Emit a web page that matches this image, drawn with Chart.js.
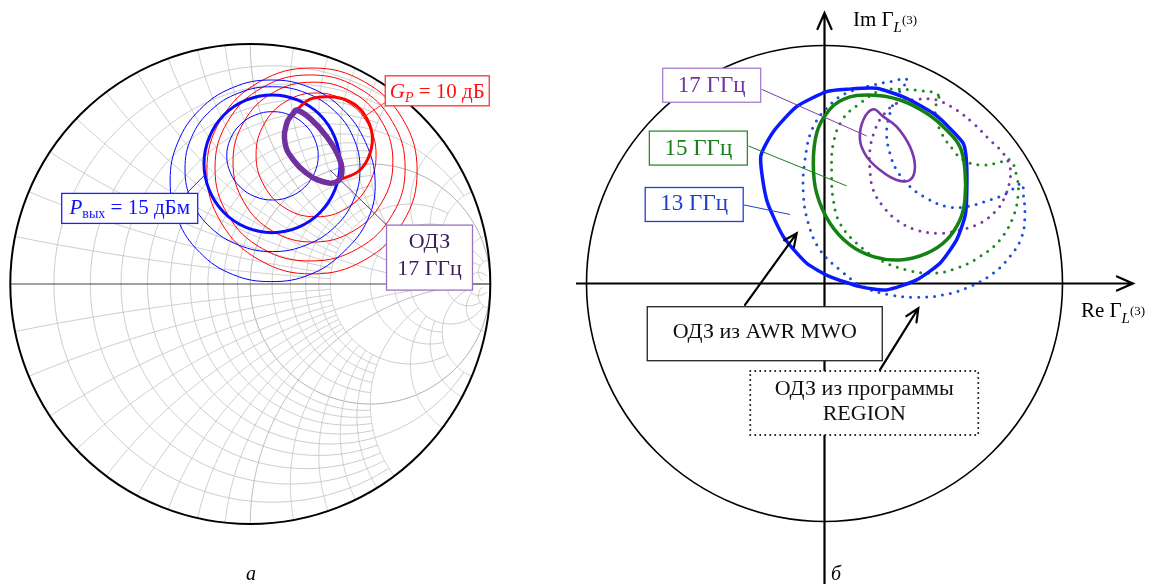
<!DOCTYPE html>
<html>
<head>
<meta charset="utf-8">
<script src="https://cdn.jsdelivr.net/npm/chart.js@4.4.1/dist/chart.umd.min.js"></script>
<style>
  html, body { margin: 0; padding: 0; background: #fff; }
  #wrap { position: relative; width: 1152px; height: 584px; overflow: hidden; }
  canvas { position: absolute; top: 0; }
  #left { left: 0; }
  #right { left: 576px; }
</style>
</head>
<body>
<div id="wrap">
  <canvas id="left" width="576" height="584"></canvas>
  <canvas id="right" width="576" height="584"></canvas>
</div>
<script>
// ---- panel a: contours on the Smith chart (Re/Im of Gamma) ----
const L_POUT_15 = [[0.374,0.501],[0.352,0.611],[0.291,0.704],[0.199,0.766],[0.091,0.788],[-0.018,0.766],[-0.110,0.704],[-0.171,0.611],[-0.193,0.501],[-0.171,0.391],[-0.110,0.298],[-0.018,0.236],[0.091,0.214],[0.199,0.236],[0.291,0.298],[0.352,0.391]];
const L_POUT_A = [[0.283,0.534],[0.268,0.604],[0.227,0.664],[0.165,0.704],[0.093,0.718],[0.020,0.704],[-0.042,0.664],[-0.083,0.604],[-0.098,0.534],[-0.083,0.464],[-0.042,0.404],[0.020,0.364],[0.093,0.350],[0.165,0.364],[0.227,0.404],[0.268,0.464]];
const L_POUT_B = [[0.457,0.479],[0.429,0.611],[0.350,0.722],[0.232,0.796],[0.092,0.822],[-0.048,0.796],[-0.166,0.722],[-0.245,0.611],[-0.272,0.479],[-0.245,0.347],[-0.166,0.236],[-0.048,0.162],[0.092,0.135],[0.232,0.162],[0.350,0.236],[0.429,0.347]];
const L_POUT_C = [[0.520,0.430],[0.480,0.590],[0.386,0.727],[0.250,0.818],[0.088,0.850],[-0.074,0.818],[-0.210,0.727],[-0.302,0.590],[-0.334,0.429],[-0.302,0.268],[-0.210,0.131],[-0.074,0.040],[0.088,0.010],[0.250,0.040],[0.386,0.131],[0.490,0.270]];

const L_GP_10 = [[0.193,0.725],[0.249,0.770],[0.332,0.780],[0.415,0.760],[0.472,0.711],[0.507,0.628],[0.499,0.545],[0.457,0.475],[0.388,0.440],[0.360,0.433]];
const L_GP_A = [[0.524,0.538],[0.490,0.667],[0.399,0.761],[0.274,0.796],[0.149,0.761],[0.058,0.667],[0.024,0.538],[0.058,0.409],[0.149,0.314],[0.274,0.280],[0.399,0.314],[0.490,0.409]];
const L_GP_B = [[0.594,0.508],[0.549,0.675],[0.428,0.797],[0.261,0.841],[0.094,0.797],[-0.027,0.675],[-0.072,0.508],[-0.027,0.342],[0.094,0.220],[0.261,0.175],[0.428,0.220],[0.549,0.342]];
const L_GP_C = [[0.645,0.483],[0.592,0.677],[0.447,0.819],[0.249,0.871],[0.051,0.819],[-0.094,0.677],[-0.147,0.483],[-0.094,0.289],[0.051,0.147],[0.249,0.096],[0.447,0.147],[0.592,0.289]];
const L_GP_D = [[0.695,0.471],[0.636,0.686],[0.476,0.842],[0.257,0.900],[0.038,0.842],[-0.122,0.686],[-0.181,0.471],[-0.122,0.257],[0.038,0.100],[0.257,0.042],[0.476,0.100],[0.636,0.257]];

const L_ODZ_17 = [[0.193,0.725],[0.249,0.690],[0.318,0.614],[0.368,0.530],[0.381,0.461],[0.360,0.426],[0.304,0.426],[0.235,0.461],[0.179,0.517],[0.145,0.586],[0.152,0.670],[0.179,0.711]];

// Smith grid: [value, limit of the other coordinate]
const R_GRID = [[0.1,2],[0.2,2],[0.3,2],[0.4,2],[0.5,5],[0.6,2],[0.7,2],[0.8,2],[0.9,2],[1,Infinity],
  [1.2,2],[1.4,2],[1.6,2],[1.8,2],[2,5],[3,5],[4,5],[5,20],[10,20],[20,50]];
const X_GRID = [[0.1,2],[0.2,2],[0.3,2],[0.4,2],[0.5,5],[0.6,2],[0.7,2],[0.8,2],[0.9,2],[1,Infinity],
  [1.2,2],[1.4,2],[1.6,2],[1.8,2],[2,5],[3,5],[4,5],[5,20],[10,20],[20,50]];

// ---- panel b: AWR (solid) and REGION (dotted) contours ----
const R_AWR_13 = [[-0.268,0.533],[-0.215,0.638],[-0.117,0.743],[0.009,0.806],[0.093,0.816],[0.219,0.820],[0.345,0.778],[0.457,0.715],[0.513,0.666],[0.583,0.589],[0.597,0.505],[0.597,0.351],[0.590,0.281],[0.555,0.183],[0.485,0.085],[0.387,0.015],[0.261,-0.027],[0.149,-0.013],[0.023,0.029],[-0.075,0.085],[-0.173,0.197],[-0.243,0.351]];
const R_AWR_15 = [[0.079,0.774],[0.191,0.792],[0.317,0.771],[0.429,0.715],[0.513,0.645],[0.569,0.575],[0.590,0.477],[0.590,0.351],[0.569,0.267],[0.513,0.183],[0.429,0.127],[0.317,0.099],[0.205,0.113],[0.107,0.162],[0.023,0.253],[-0.033,0.379],[-0.047,0.505],[-0.033,0.631],[0.009,0.715]];
const R_AWR_17 = [[0.205,0.732],[0.247,0.701],[0.303,0.659],[0.359,0.575],[0.380,0.491],[0.359,0.435],[0.303,0.435],[0.233,0.477],[0.177,0.533],[0.149,0.603],[0.163,0.687]];
const R_REG_13 = [[0.345,0.858],[0.275,0.848],[0.205,0.834],[0.107,0.806],[0.037,0.764],[-0.047,0.659],[-0.082,0.519],[-0.089,0.379],[-0.068,0.253],[-0.019,0.141],[0.065,0.057],[0.163,-0.013],[0.275,-0.048],[0.387,-0.058],[0.499,-0.048],[0.611,-0.013],[0.709,0.043],[0.779,0.113],[0.829,0.197],[0.842,0.295],[0.835,0.379],[0.829,0.421],[0.766,0.379],[0.695,0.351],[0.597,0.323],[0.513,0.323],[0.429,0.358],[0.359,0.407],[0.303,0.477],[0.275,0.547],[0.261,0.631],[0.275,0.715],[0.303,0.785]];
const R_REG_15 = [[0.478,0.792],[0.401,0.810],[0.317,0.816],[0.233,0.810],[0.149,0.757],[0.079,0.694],[0.037,0.589],[0.030,0.463],[0.037,0.351],[0.065,0.253],[0.135,0.169],[0.233,0.099],[0.345,0.057],[0.457,0.043],[0.555,0.064],[0.653,0.113],[0.737,0.183],[0.793,0.281],[0.814,0.379],[0.808,0.449],[0.779,0.519],[0.724,0.505],[0.653,0.498],[0.583,0.519],[0.541,0.561],[0.485,0.645],[0.464,0.729]];
const R_REG_17 = [[0.303,0.757],[0.387,0.774],[0.471,0.771],[0.555,0.729],[0.625,0.673],[0.695,0.603],[0.751,0.547],[0.779,0.491],[0.779,0.435],[0.758,0.365],[0.724,0.309],[0.653,0.253],[0.569,0.225],[0.485,0.211],[0.387,0.225],[0.303,0.267],[0.247,0.323],[0.205,0.393],[0.191,0.477],[0.191,0.561],[0.212,0.645],[0.247,0.708]];

const SERIF = '"Liberation Serif", "DejaVu Serif", serif';
const f = (size, style) => `${style || ""} ${size}px ${SERIF}`.trim();
const CLEAR = "rgba(0,0,0,0)";

function pts(arr) { return arr.map(([x, y]) => ({ x, y })); }

function curve(data, color, width, extra) {
  return Object.assign({
    data, borderColor: color, borderWidth: width, showLine: true,
    pointRadius: 0, pointHoverRadius: 0, tension: 0.4, fill: false,
  }, extra || {});
}

// closed contour: pad with a point on each side so the join is smooth,
// then hide the two padding segments
function closed(arr, color, width, extra) {
  const n = arr.length;
  const data = pts([arr[n - 1], ...arr, arr[0], arr[1]]);
  const last = data.length - 1;
  return curve(data, color, width, Object.assign({
    segment: { borderColor: (c) => (c.p0DataIndex === 0 || c.p1DataIndex === last ? CLEAR : undefined) },
  }, extra || {}));
}
const dotted = { borderDash: [0, 8], borderCapStyle: "round" };

function drawRuns(ctx, x, y, parts, color) {
  let w = 0;
  parts.forEach((p) => { ctx.font = p[1]; w += ctx.measureText(p[0]).width; });
  let cx = x - w / 2;
  ctx.fillStyle = color;
  ctx.textBaseline = "alphabetic";
  ctx.textAlign = "left";
  parts.forEach((p) => {
    ctx.font = p[1];
    ctx.fillText(p[0], cx, y + (p[2] || 0));
    cx += ctx.measureText(p[0]).width;
  });
}

function drawBox(chart, b) {
  const { ctx, scales: { x, y } } = chart;
  const cx = x.getPixelForValue(b.gx), cy = y.getPixelForValue(b.gy);
  ctx.save();
  if (b.leader) {
    ctx.beginPath();
    ctx.moveTo(x.getPixelForValue(b.leader[0][0]), y.getPixelForValue(b.leader[0][1]));
    ctx.lineTo(x.getPixelForValue(b.leader[1][0]), y.getPixelForValue(b.leader[1][1]));
    ctx.strokeStyle = b.leaderColor || b.border;
    ctx.lineWidth = 1;
    ctx.stroke();
  }
  ctx.fillStyle = "#fff";
  ctx.fillRect(cx - b.w / 2, cy - b.h / 2, b.w, b.h);
  ctx.strokeStyle = b.border;
  ctx.lineWidth = b.lw || 1.3;
  if (b.dots) { ctx.setLineDash([0, 5]); ctx.lineCap = "round"; ctx.lineWidth = 2; }
  ctx.strokeRect(cx - b.w / 2, cy - b.h / 2, b.w, b.h);
  ctx.setLineDash([]);
  b.lines.forEach((ln) => drawRuns(ctx, cx + (ln.dx || 0), cy + ln.dy, ln.parts, b.color));
  ctx.restore();
}

function drawArrow(ctx, x0, y0, x1, y1, len, half, lw) {
  const a = Math.atan2(y1 - y0, x1 - x0);
  ctx.beginPath();
  ctx.moveTo(x0, y0);
  ctx.lineTo(x1, y1);
  ctx.moveTo(x1 - len * Math.cos(a) + half * Math.sin(a), y1 - len * Math.sin(a) - half * Math.cos(a));
  ctx.lineTo(x1, y1);
  ctx.lineTo(x1 - len * Math.cos(a) - half * Math.sin(a), y1 - len * Math.sin(a) + half * Math.cos(a));
  ctx.lineWidth = lw;
  ctx.lineCap = "round";
  ctx.lineJoin = "miter";
  ctx.strokeStyle = "#000";
  ctx.stroke();
}

// --- panel a labels
const L_BOXES = [
  { gx: 0.779, gy: 0.805, w: 104, h: 30, border: "#ff3030", color: "#ff1010",
    leader: [[0.568, 0.760], [0.471, 0.695]],
    lines: [{ dy: 7, parts: [["G", f(21, "italic")], ["P", f(14, "italic"), 4], [" = 10 дБ", f(21)]] }] },
  { gx: -0.5025, gy: 0.315, w: 136, h: 30, border: "#2020ff", color: "#1010ff",
    leader: [[-0.265, 0.378], [-0.193, 0.451]],
    lines: [{ dy: 5.5, parts: [["P", f(21, "italic")], ["вых", f(14), 4], [" = 15 дБм", f(21)]] }] },
  { gx: 0.7467, gy: 0.110, w: 86, h: 65, border: "#9a72c2", color: "#3c1e5a", leaderColor: "#6a3a90",
    leader: [[0.568, 0.246], [0.332, 0.475]],
    lines: [{ dy: -10, parts: [["ОДЗ", f(22)]] }, { dy: 17.5, parts: [["17 ГГц", f(22)]] }] },
];

const smithGrid = {
  id: "smithGrid",
  beforeDatasetsDraw(chart) {
    const { ctx, scales: { x, y } } = chart;
    const cx = x.getPixelForValue(0), cy = y.getPixelForValue(0);
    const R = x.getPixelForValue(1) - cx;
    const toG = (r, xv) => { const d = (r + 1) * (r + 1) + xv * xv; return [(r * r + xv * xv - 1) / d, 2 * xv / d]; };
    const trace = (list) => {
      ctx.beginPath();
      list.forEach(([gx, gy], i) => {
        const px = x.getPixelForValue(gx), py = y.getPixelForValue(gy);
        if (i) ctx.lineTo(px, py); else ctx.moveTo(px, py);
      });
      ctx.stroke();
    };
    ctx.save();
    ctx.beginPath();
    ctx.arc(cx, cy, R, 0, Math.PI * 2);
    ctx.clip();
    ctx.lineWidth = 0.9;
    R_GRID.forEach(([r, lim]) => {
      const t = Math.atan(lim), list = [];
      for (let i = 0; i <= 300; i++) { const th = -t + (2 * t * i) / 300; list.push(toG(r, Math.tan(th))); }
      ctx.strokeStyle = r === 1 ? "#a8a8a8" : "#c6c6c6";
      trace(list);
    });
    X_GRID.forEach(([xv, lim]) => {
      [1, -1].forEach((s) => {
        const t = Math.atan(lim), list = [];
        for (let i = 0; i <= 200; i++) list.push(toG(Math.tan((t * i) / 200), s * xv));
        ctx.strokeStyle = xv === 1 ? "#b4b4b4" : "#c6c6c6";
        trace(list);
      });
    });
    ctx.restore();
    ctx.save();
    ctx.beginPath();
    ctx.moveTo(cx - R, cy);
    ctx.lineTo(cx + R, cy);
    ctx.strokeStyle = "#444";
    ctx.lineWidth = 1.2;
    ctx.stroke();
    ctx.beginPath();
    ctx.arc(cx, cy, R, 0, Math.PI * 2);
    ctx.strokeStyle = "#000";
    ctx.lineWidth = 2;
    ctx.stroke();
    ctx.restore();
  },
  afterDatasetsDraw(chart) {
    L_BOXES.forEach((b) => drawBox(chart, b));
    const ctx = chart.ctx;
    ctx.save();
    drawRuns(ctx, 251, 580, [["а", f(20, "italic")]], "#000");
    ctx.restore();
  },
};

// --- panel b labels
const R_BOXES = [
  { gx: -0.474, gy: 0.833, w: 98, h: 34, border: "#a67fcc", color: "#7434a4", leaderColor: "#7a3aa8",
    leader: [[-0.264, 0.816], [0.177, 0.620]], lines: [{ dy: 6.5, parts: [["17 ГГц", f(23)]] }] },
  { gx: -0.530, gy: 0.569, w: 98, h: 34, border: "#2c8c2c", color: "#1a7f1a", leaderColor: "#1a801a",
    leader: [[-0.320, 0.578], [0.093, 0.410]], lines: [{ dy: 6.5, parts: [["15 ГГц", f(23)]] }] },
  { gx: -0.5475, gy: 0.332, w: 98, h: 34, border: "#1f3fd0", color: "#1f3fd0",
    leader: [[-0.338, 0.330], [-0.145, 0.290]], lines: [{ dy: 5.5, parts: [["13 ГГц", f(23)]] }] },
  { gx: -0.251, gy: -0.211, w: 235, h: 54, border: "#222", color: "#111",
    lines: [{ dy: 4, parts: [["ОДЗ из AWR MWO", f(22)]] }] },
  { gx: 0.167, gy: -0.502, w: 228, h: 64, border: "#111", color: "#111", dots: true,
    lines: [{ dy: -8, parts: [["ОДЗ из программы", f(22)]] }, { dy: 17, parts: [["REGION", f(22)]] }] },
];

const planeDecor = {
  id: "planeDecor",
  beforeDatasetsDraw(chart) {
    const { ctx, scales: { x, y } } = chart;
    const cx = x.getPixelForValue(0), cy = y.getPixelForValue(0);
    const R = x.getPixelForValue(1) - cx;
    ctx.save();
    ctx.beginPath();
    ctx.arc(cx, cy, R, 0, Math.PI * 2);
    ctx.strokeStyle = "#000";
    ctx.lineWidth = 1.6;
    ctx.stroke();
    drawArrow(ctx, x.getPixelForValue(-1.0525), cy, x.getPixelForValue(1.296), cy, 16, 7, 2.2);
    drawArrow(ctx, cx, y.getPixelForValue(-1.2626), cx, y.getPixelForValue(1.1366), 16, 7, 2.2);
    drawRuns(ctx, 309, 26, [["Im Γ", f(21)], ["L", f(15, "italic"), 6], ["(3)", f(13), -2]], "#000");
    drawRuns(ctx, 537, 317, [["Re Γ", f(21)], ["L", f(15, "italic"), 6], ["(3)", f(13), -2]], "#000");
    ctx.restore();
  },
  afterDatasetsDraw(chart) {
    const { ctx, scales: { x, y } } = chart;
    const P = (gx, gy) => [x.getPixelForValue(gx), y.getPixelForValue(gy)];
    R_BOXES.forEach((b) => drawBox(chart, b));
    ctx.save();
    drawArrow(ctx, ...P(-0.334, -0.090), ...P(-0.117, 0.211), 13, 6, 2.2);
    drawArrow(ctx, ...P(0.233, -0.363), ...P(0.394, -0.104), 13, 6, 2.2);
    drawRuns(ctx, 260, 580, [["б", f(20, "italic")]], "#000");
    ctx.restore();
  },
};

function baseOptions(xmin, xmax, ymin, ymax) {
  return {
    responsive: false,
    devicePixelRatio: 1,
    animation: false,
    events: [],
    layout: { padding: 0, autoPadding: false },
    plugins: { legend: { display: false }, tooltip: { enabled: false } },
    scales: {
      x: { type: "linear", min: xmin, max: xmax, display: false },
      y: { type: "linear", min: ymin, max: ymax, display: false },
    },
  };
}

new Chart(document.getElementById("left"), {
  type: "scatter",
  data: {
    datasets: [
      closed(L_ODZ_17, "#7030a0", 5.5, { order: 1, tension: 0.45 }),
      curve(pts(L_GP_10), "#ff0000", 3, { order: 2 }),
      closed(L_POUT_15, "#0a0aff", 3, { order: 3 }),
      closed(L_POUT_A, "#0000ff", 1, { order: 4 }),
      closed(L_POUT_B, "#0000ff", 1, { order: 5 }),
      closed(L_POUT_C, "#0000ff", 1, { order: 6 }),
      closed(L_GP_A, "#ff0000", 1, { order: 7 }),
      closed(L_GP_B, "#ff0000", 1, { order: 8 }),
      closed(L_GP_C, "#ff0000", 1, { order: 9 }),
      closed(L_GP_D, "#ff0000", 1, { order: 10 }),
    ],
  },
  options: baseOptions(-250.3 / 240, (576 - 250.3) / 240, -300 / 240, 284 / 240),
  plugins: [smithGrid],
});

new Chart(document.getElementById("right"), {
  type: "scatter",
  data: {
    datasets: [
      closed(R_AWR_17, "#7a38aa", 2.6, { order: 1 }),
      closed(R_AWR_15, "#138213", 3.5, { order: 2 }),
      closed(R_AWR_13, "#0a1aff", 3.5, { order: 3, tension: 0.2 }),
      closed(R_REG_17, "#7a38aa", 3, Object.assign({ order: 4 }, dotted)),
      closed(R_REG_15, "#1a8a1a", 3, Object.assign({ order: 5 }, dotted)),
      closed(R_REG_13, "#1c4fd8", 3, Object.assign({ order: 6 }, dotted)),
    ],
  },
  options: baseOptions(-248.5 / 238, (576 - 248.5) / 238, -300.5 / 238, 283.5 / 238),
  plugins: [planeDecor],
});
</script>
</body>
</html>
